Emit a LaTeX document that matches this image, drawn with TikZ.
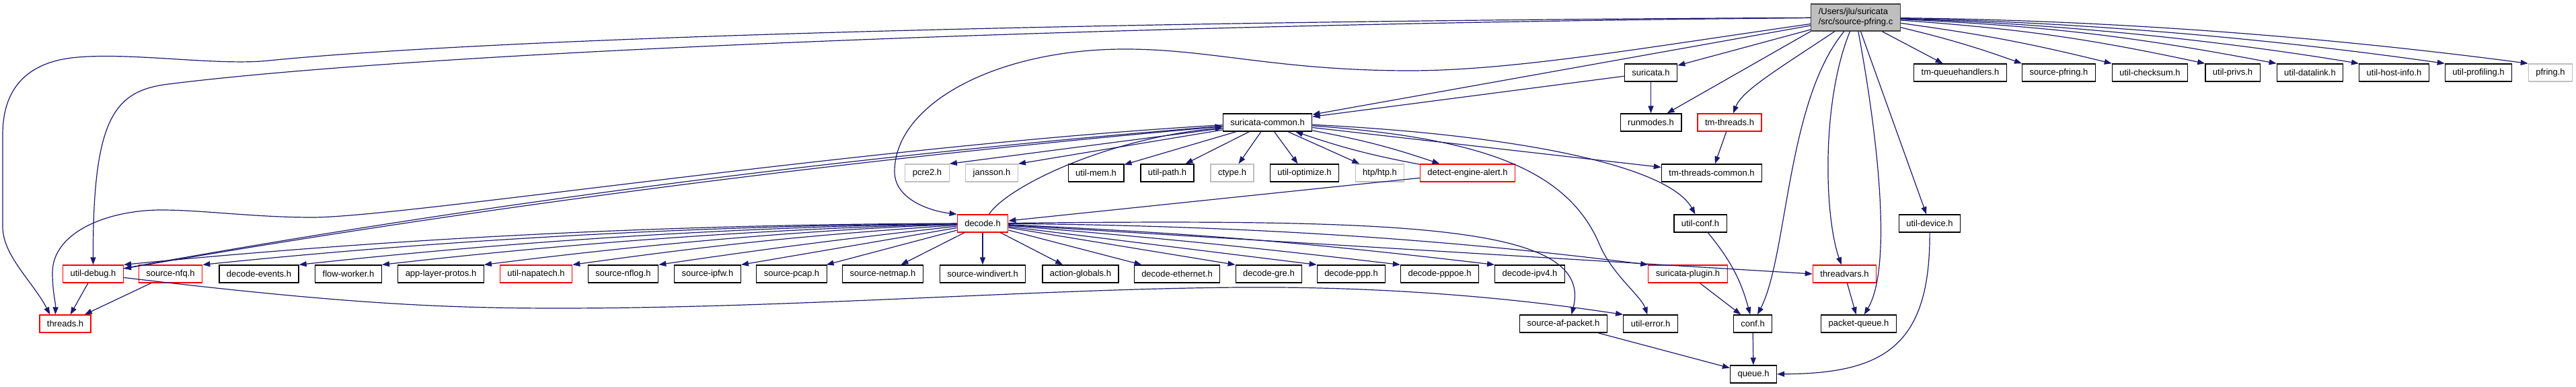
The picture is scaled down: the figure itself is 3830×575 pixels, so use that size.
\documentclass[tikz,border=0pt]{standalone}
\usepackage{fontspec}
\setmainfont{Liberation Sans}
\usetikzlibrary{arrows.meta}
\definecolor{midnight}{HTML}{191970}
\definecolor{grayline}{HTML}{BFBFBF}
\definecolor{topfill}{HTML}{BFBFBF}
\definecolor{topline}{HTML}{404040}

\begin{document}
\begin{tikzpicture}[x=1pt, y=1pt,
  hfile/.style={draw=black, fill=white, line width=1.3pt, inner xsep=11pt, inner ysep=0pt,
    minimum height=26pt, font=\fontsize{13}{15}\selectfont},
  hred/.style={hfile, draw=red},
  hgray/.style={hfile, draw=grayline},
  hmain/.style={hfile, fill=topfill, draw=topline, align=left, minimum height=40pt},
  inc/.style={draw=midnight, line width=1.2pt, -{Triangle[length=11pt,width=8pt]}}]

\useasboundingbox (0,0) rectangle (3830,575);

\node[hmain] (src) at (2759,549) {/Users/jlu/suricata\\/src/source-pfring.c};

\node[hfile] (suricata) at (2454.5,467) {suricata.h};
\node[hfile] (queuehd) at (2914.5,467) {tm-queuehandlers.h};
\node[hfile] (pfringh) at (3061,467) {source-pfring.h};
\node[hfile] (checksum) at (3196.5,467) {util-checksum.h};
\node[hfile] (privs) at (3319.5,467) {util-privs.h};
\node[hfile] (datalink) at (3434.5,467) {util-datalink.h};
\node[hfile] (hostinfo) at (3559.5,467) {util-host-info.h};
\node[hfile] (profiling) at (3685,467) {util-profiling.h};
\node[hgray] (pfring) at (3792,467) {pfring.h};

\node[hfile] (common) at (1884.5,393) {suricata-common.h};
\node[hfile] (runmodes) at (2454.5,393) {runmodes.h};
\node[hred] (tmthreads) at (2571.5,393) {tm-threads.h};

\node[hgray] (pcre) at (1378.5,318) {pcre2.h};
\node[hgray] (jansson) at (1474.5,318) {jansson.h};
\node[hfile] (mem) at (1629.5,318) {util-mem.h};
\node[hfile] (path) at (1735.5,318) {util-path.h};
\node[hgray] (ctype) at (1832,318) {ctype.h};
\node[hfile] (optimize) at (1939.5,318) {util-optimize.h};
\node[hgray] (htp) at (2051.5,318) {htp/htp.h};
\node[hred] (alert) at (2182,318) {detect-engine-alert.h};
\node[hfile] (tmcommon) at (2545,318) {tm-threads-common.h};

\node[hred] (decode) at (1461,243) {decode.h};
\node[hfile] (utilconf) at (2528,243) {util-conf.h};
\node[hfile] (device) at (2869,243) {util-device.h};

\node[hred] (debug) at (138.5,168) {util-debug.h};
\node[hred] (nfq) at (253.5,168) {source-nfq.h};
\node[hfile] (events) at (385,168) {decode-events.h};
\node[hfile] (worker) at (518,168) {flow-worker.h};
\node[hfile] (protos) at (655.5,168) {app-layer-protos.h};
\node[hred] (napatech) at (797,168) {util-napatech.h};
\node[hfile] (nflog) at (926.5,168) {source-nflog.h};
\node[hfile] (ipfw) at (1052,168) {source-ipfw.h};
\node[hfile] (pcap) at (1177,168) {source-pcap.h};
\node[hfile] (netmap) at (1312.5,168) {source-netmap.h};
\node[hfile] (windivert) at (1461,168) {source-windivert.h};
\node[hfile] (actions) at (1606.5,168) {action-globals.h};
\node[hfile] (ethernet) at (1750,168) {decode-ethernet.h};
\node[hfile] (gre) at (1886.5,168) {decode-gre.h};
\node[hfile] (ppp) at (2009,168) {decode-ppp.h};
\node[hfile] (pppoe) at (2140.5,168) {decode-pppoe.h};
\node[hfile] (ipv4) at (2274.5,168) {decode-ipv4.h};
\node[hred] (plugin) at (2509.5,168) {suricata-plugin.h};
\node[hred] (threadvars) at (2742.5,168) {threadvars.h};

\node[hred] (threads) at (97,94) {threads.h};
\node[hfile] (afpacket) at (2324.5,94) {source-af-packet.h};
\node[hfile] (error) at (2454,94) {util-error.h};
\node[hfile] (conf) at (2606,94) {conf.h};
\node[hfile] (pktqueue) at (2763.5,94) {packet-queue.h};

\node[hfile] (queue) at (2607,19) {queue.h};

\draw[inc] (src) -- (common);
\draw[inc] (src) -- (suricata);
\draw[inc] (src.south west) -- (runmodes);
\draw[inc] (src) .. controls (2640,470) and (2590,440) .. (tmthreads);
\draw[inc] (src) .. controls (2450,505) and (2250,470) .. (2096,470) .. controls (1900,470) and (1800,502) .. (1673,502) .. controls (1480,502) and (1330,420) .. (1330,320) .. controls (1330,280) and (1380,262) .. (decode.north west);
\draw[inc] (src) .. controls (1700,540) and (650,500) .. (250,450) .. controls (170,440) and (138,400) .. (debug);
\draw[inc] (src) .. controls (1500,543) and (700,515) .. (400,485) .. controls (325,477) and (200,497) .. (116,490) .. controls (66,486) and (4,465) .. (4,375) -- (4,238) .. controls (4,195) and (50,155) .. ([xshift=16pt]threads.north west);
\draw[inc] (src) .. controls (2656,425) and (2658,195) .. (conf);
\draw[inc] (src) .. controls (2708,425) and (2712,255) .. (threadvars);
\draw[inc] (src) .. controls (2795,355) and (2812,175) .. (pktqueue);
\draw[inc] (src) -- (device);
\draw[inc] (src) -- (queuehd);
\draw[inc] (src) to[bend left=3] (pfringh.north west);
\draw[inc] (src) to[bend left=3] (checksum.north west);
\draw[inc] (src) to[bend left=4] (privs.north west);
\draw[inc] (src) to[bend left=4] (datalink.north west);
\draw[inc] (src) .. controls (3060,540) and (3300,515) .. (hostinfo.north west);
\draw[inc] (src) .. controls (3100,542) and (3380,517) .. (profiling.north west);
\draw[inc] (src) .. controls (3140,545) and (3460,520) .. (pfring.north west);

\draw[inc] (suricata) -- (common);
\draw[inc] (suricata) -- (runmodes);
\draw[inc] (tmthreads) -- (tmcommon);

\draw[inc] (common) -- (pcre.north east);
\draw[inc] (common) -- (jansson.north east);
\draw[inc] (common) -- (mem);
\draw[inc] (common) -- (path);
\draw[inc] (common) -- (ctype);
\draw[inc] (common) -- (optimize);
\draw[inc] (common) -- (htp);
\draw[inc] (common) to[bend left=4] (alert);
\draw[inc] (alert) to[bend left=4] (common);
\draw[inc] (common) -- (tmcommon);
\draw[inc] (common) .. controls (2250,375) and (2480,330) .. (utilconf);
\draw[inc] (common) .. controls (2200,370) and (2330,325) .. (2378,212) .. controls (2397,167) and (2440,135) .. (error);
\draw[inc] (common) .. controls (1273,339) and (728,270) .. (debug);
\draw[inc] (debug) .. controls (728,275) and (1273,344) .. (common);
\draw[inc] (common) .. controls (1300,360) and (600,252) .. (464,252) .. controls (380,252) and (300,263) .. (240,263) .. controls (160,263) and (78,230) .. (78,170) .. controls (78,140) and (83,125) .. ([xshift=24pt]threads.north west);

\draw[inc] (decode) .. controls (1500,300) and (1650,370) .. ([yshift=-8pt]common.west);
\draw[inc] (alert) -- (decode);
\draw[inc] (decode) .. controls (1010,242) and (597,222) .. (debug.north east);
\draw[inc] (decode) .. controls (1050,240) and (675,220) .. (nfq.north east);
\draw[inc] (decode) .. controls (1097,238) and (771,217) .. (events.north east);
\draw[inc] (decode) .. controls (1138,235) and (852,214) .. (worker.north east);
\draw[inc] (decode) .. controls (1189,233) and (953,211) .. (protos.north east);
\draw[inc] (decode) to[bend right=2] (napatech.north east);
\draw[inc] (decode) to[bend right=1] (nflog.north east);
\draw[inc] (decode) -- (ipfw.north east);
\draw[inc] (decode) -- (pcap);
\draw[inc] (decode) -- (netmap);
\draw[inc] (decode) -- (windivert);
\draw[inc] (decode) -- (actions);
\draw[inc] (decode) -- (ethernet);
\draw[inc] (decode) -- (gre.north west);
\draw[inc] (decode) -- (ppp.north west);
\draw[inc] (decode) to[bend left=1] (pppoe.north west);
\draw[inc] (decode) to[bend left=2] (ipv4.north west);
\draw[inc] (decode) .. controls (1840,240) and (2150,220) .. (plugin.north west);
\draw[inc] (decode) -- (threadvars.west);
\draw[inc] (decode) .. controls (2100,250) and (2370,240) .. ([xshift=12pt]afpacket.north);

\draw[inc] (debug) -- (threads);
\draw[inc] (nfq) -- (threads);
\draw[inc] (debug) .. controls (500,125) and (650,117) .. (829,117) .. controls (1200,117) and (1600,150) .. (1900,148) .. controls (2150,146) and (2330,120) .. (error.north west);
\draw[inc] (utilconf) to[bend left=12] (conf);
\draw[inc] (plugin) -- (conf);
\draw[inc] (conf) -- (queue);
\draw[inc] (afpacket) -- (queue);
\draw[inc] (device) .. controls (2870,60) and (2800,20) .. (queue);
\draw[inc] (threadvars) -- (pktqueue);

\end{tikzpicture}
\end{document}
